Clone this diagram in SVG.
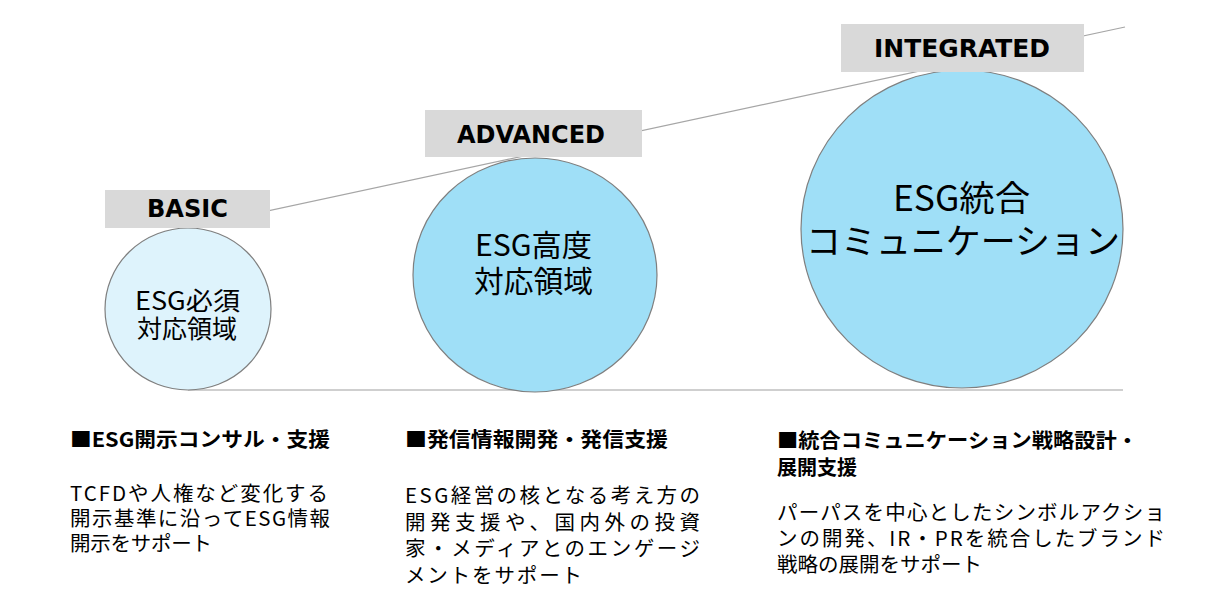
<svg xmlns="http://www.w3.org/2000/svg" width="1218" height="607" viewBox="0 0 1218 607">
<style>
.bg{fill:#ffffff}
.conn{stroke:#a6a6a6;stroke-width:1.2;fill:none}
.base{stroke:#bfbfbf;stroke-width:1.5;fill:none}
.circ{stroke:#7f7f7f;stroke-width:1.2}
.c1{fill:#def3fc}
.c2{fill:#9fdff7}
.box{fill:#d9d9d9}
.lbl{font-family:"DejaVu Sans","Liberation Sans",sans-serif;font-weight:bold;font-size:25px;fill:#000;text-anchor:middle}
.ct{font-family:"Noto Sans CJK JP","Noto Sans",sans-serif;fill:#000;text-anchor:middle}
.hd{font-family:"Noto Sans CJK JP","Noto Sans",sans-serif;font-weight:bold;font-size:20px;fill:#000}
.bd{font-family:"Noto Sans CJK JP","Noto Sans",sans-serif;font-size:20.5px;fill:#000}
</style>
<rect class="bg" x="0" y="0" width="1218" height="607"/>
<g id="connectors">
<line class="conn" x1="188" y1="228" x2="1125" y2="27"/>
<line class="base" x1="188" y1="390" x2="1123" y2="390"/>
</g>
<g id="node-basic">
<ellipse class="circ c1" cx="188" cy="309" rx="83" ry="81"/>
<text class="ct" font-size="25"><tspan x="187.5" y="310" textLength="105" lengthAdjust="spacingAndGlyphs">ESG必須</tspan><tspan x="187" y="338" textLength="100" lengthAdjust="spacingAndGlyphs">対応領域</tspan></text>
<rect class="box" x="105" y="190" width="165" height="38"/>
<text class="lbl" x="187.5" y="217" textLength="81" lengthAdjust="spacingAndGlyphs">BASIC</text>
</g>
<g id="node-advanced">
<ellipse class="circ c2" cx="535" cy="275" rx="122" ry="117"/>
<text class="ct" font-size="30"><tspan x="533.5" y="256" textLength="117" lengthAdjust="spacingAndGlyphs">ESG高度</tspan><tspan x="533.5" y="292" textLength="119" lengthAdjust="spacingAndGlyphs">対応領域</tspan></text>
<rect class="box" x="425" y="110" width="217" height="47"/>
<text class="lbl" x="531" y="143" textLength="148" lengthAdjust="spacingAndGlyphs">ADVANCED</text>
</g>
<g id="node-integrated">
<ellipse class="circ c2" cx="962" cy="229" rx="161" ry="159"/>
<text class="ct" font-size="35"><tspan x="961.5" y="211" textLength="137" lengthAdjust="spacingAndGlyphs">ESG統合</tspan><tspan x="963" y="254" textLength="314" lengthAdjust="spacingAndGlyphs">コミュニケーション</tspan></text>
<rect class="box" x="841" y="24" width="243" height="48"/>
<text class="lbl" x="962" y="57" textLength="176" lengthAdjust="spacingAndGlyphs">INTEGRATED</text>
</g>
<g id="desc-basic">
<text class="hd" x="70" y="447" textLength="260" lengthAdjust="spacingAndGlyphs">■ESG開示コンサル・支援</text>
<text class="bd"><tspan x="70" y="501" textLength="258" lengthAdjust="spacing">TCFDや人権など変化する</tspan><tspan x="70" y="526" textLength="260" lengthAdjust="spacing">開示基準に沿ってESG情報</tspan><tspan x="70" y="551" textLength="142" lengthAdjust="spacing">開示をサポート</tspan></text>
</g>
<g id="desc-advanced">
<text class="hd" x="405" y="447" textLength="263" lengthAdjust="spacingAndGlyphs">■発信情報開発・発信支援</text>
<text class="bd"><tspan x="405" y="503" textLength="295" lengthAdjust="spacing">ESG経営の核となる考え方の</tspan><tspan x="405" y="529.5" textLength="295" lengthAdjust="spacing">開発支援や、国内外の投資</tspan><tspan x="405" y="556" textLength="295" lengthAdjust="spacing">家・メディアとのエンゲージ</tspan><tspan x="405" y="582.5" textLength="177" lengthAdjust="spacing">メントをサポート</tspan></text>
</g>
<g id="desc-integrated">
<text class="hd"><tspan x="777" y="448" textLength="361" lengthAdjust="spacingAndGlyphs">■統合コミュニケーション戦略設計・</tspan><tspan x="777" y="475" textLength="80" lengthAdjust="spacingAndGlyphs">展開支援</tspan></text>
<text class="bd"><tspan x="777" y="520" textLength="388" lengthAdjust="spacing">パーパスを中心としたシンボルアクショ</tspan><tspan x="777" y="546" textLength="388" lengthAdjust="spacing">ンの開発、IR・PRを統合したブランド</tspan><tspan x="777" y="572" textLength="205" lengthAdjust="spacing">戦略の展開をサポート</tspan></text>
</g>
</svg>
